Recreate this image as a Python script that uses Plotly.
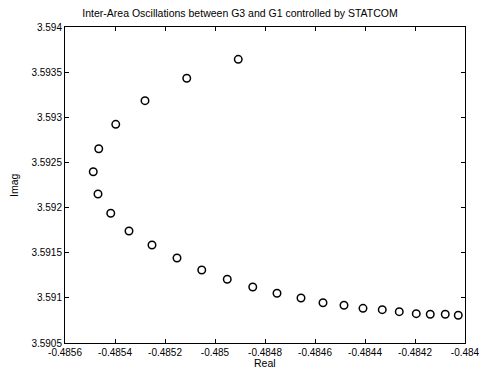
import plotly.graph_objects as go

real = [-0.484907, -0.485113, -0.485280, -0.485397, -0.485465, -0.485487, -0.485468,
        -0.485417, -0.485344, -0.485252, -0.485152, -0.485053, -0.484951, -0.484849,
        -0.484752, -0.484656, -0.484568, -0.484484, -0.484408, -0.484331, -0.484263,
        -0.484195, -0.484139, -0.484079, -0.484027]
imag = [3.593642, 3.593432, 3.593184, 3.592922, 3.592652, 3.592397, 3.592150,
        3.591937, 3.591740, 3.591585, 3.591441, 3.591309, 3.591206, 3.591120,
        3.591051, 3.590998, 3.590946, 3.590918, 3.590884, 3.590869, 3.590847,
        3.590825, 3.590818, 3.590818, 3.590807]

x_ticks = [-0.4856, -0.4854, -0.4852, -0.485, -0.4848, -0.4846, -0.4844, -0.4842, -0.484]
x_labels = ["-0.4856", "-0.4854", "-0.4852", "-0.485", "-0.4848", "-0.4846", "-0.4844", "-0.4842", "-0.484"]
y_ticks = [3.5905, 3.591, 3.5915, 3.592, 3.5925, 3.593, 3.5935, 3.594]
y_labels = ["3.5905", "3.591", "3.5915", "3.592", "3.5925", "3.593", "3.5935", "3.594"]

FONT = "Liberation Sans, Arial, sans-serif"

fig = go.Figure()
fig.add_trace(go.Scatter(
    x=real, y=imag, mode="markers",
    marker=dict(symbol="circle-open", size=7.5, color="black", line=dict(width=1.5, color="black")),
    showlegend=False,
))

axis_common = dict(
    showgrid=False, zeroline=False, showline=True, linecolor="black", linewidth=1,
    mirror="ticks", ticks="inside", ticklen=4, tickcolor="black", automargin=False,
    tickfont=dict(family=FONT, size=10, color="black"),
)

fig.update_layout(
    width=480, height=375,
    margin=dict(l=65, r=15, t=27, b=32),
    paper_bgcolor="white", plot_bgcolor="white",
    title=dict(text="Inter-Area Oscillations between G3 and G1 controlled by STATCOM",
               x=0.5, xanchor="center", y=0.965, yanchor="middle",
               font=dict(family=FONT, size=10.5, color="black")),
    xaxis=dict(range=[-0.4856, -0.484], tickvals=x_ticks, ticktext=x_labels, **axis_common),
    yaxis=dict(range=[3.5905, 3.594], tickvals=y_ticks, ticktext=y_labels, **axis_common),
    annotations=[
        dict(text="Real", xref="paper", yref="paper", x=0.5, y=-0.063, xanchor="center",
             yanchor="middle", showarrow=False, font=dict(family=FONT, size=10.5, color="black")),
        dict(text="Imag", xref="paper", yref="paper", x=-0.1275, y=0.5, xanchor="center",
             yanchor="middle", textangle=-90, showarrow=False,
             font=dict(family=FONT, size=10.5, color="black")),
    ],
)

fig.write_html("out.html", config={"displayModeBar": False},
               post_script="document.body.style.margin='0';")
